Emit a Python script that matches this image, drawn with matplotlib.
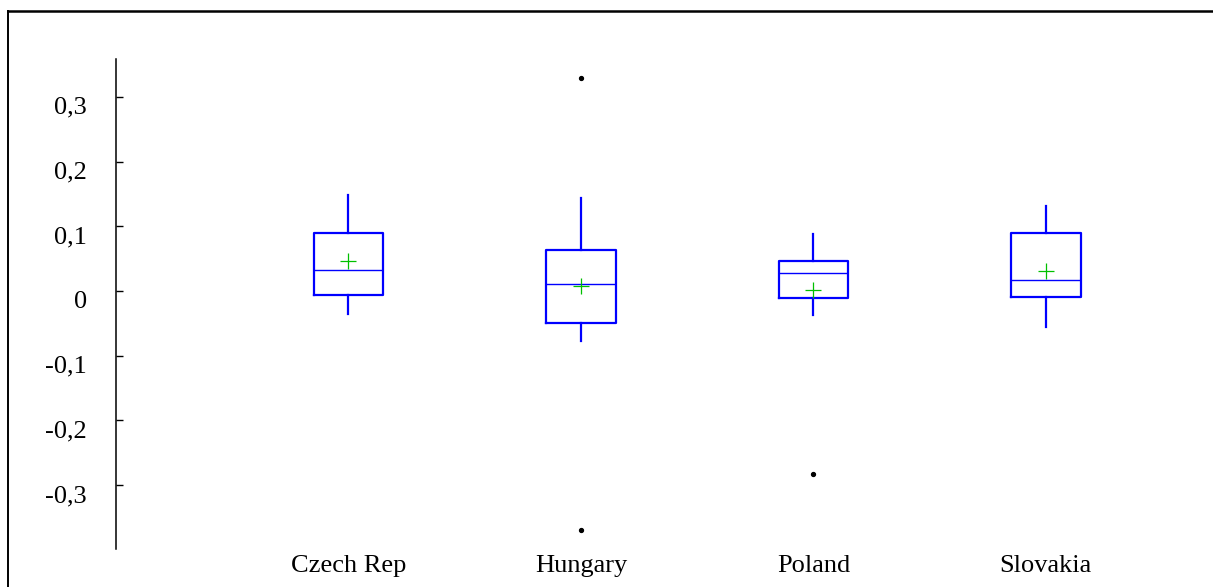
import matplotlib.pyplot as plt
from matplotlib.lines import Line2D

plt.rcParams['font.family'] = ['Liberation Serif', 'DejaVu Serif']

# значення
countries = ['Czech Rep', 'Hungary', 'Poland', 'Slovakia']
whisker_low = [-0.036, -0.078, -0.038, -0.056]
q1 = [-0.007, -0.049, -0.011, -0.010]
medians = [0.033, 0.011, 0.027, 0.017]
q3 = [0.090, 0.063, 0.046, 0.089]
whisker_high = [0.148, 0.143, 0.088, 0.131]
means = [0.046, 0.008, 0.001, 0.030]
outliers = [[], [0.329, -0.370], [-0.283], []]

y_ticks = [-0.3, -0.2, -0.1, 0, 0.1, 0.2, 0.3]
y_labels = ['-0,3', '-0,2', '-0,1', '0', '0,1', '0,2', '0,3']

W, H = 1213, 587
fig = plt.figure(figsize=(W / 100, H / 100), dpi=100)
ax = fig.add_axes([116 / W, (H - 549) / H, (1190 - 116) / W, (549 - 59.3) / H])

stats = []
for i in range(len(countries)):
    stats.append(dict(label=countries[i], whislo=whisker_low[i], q1=q1[i],
                      med=medians[i], q3=q3[i], whishi=whisker_high[i],
                      mean=means[i], fliers=outliers[i]))

blue = '#0000ff'
ax.bxp(stats, positions=range(1, 5), widths=0.30, showmeans=True,
       showcaps=False, patch_artist=False,
       boxprops=dict(color=blue, linewidth=1.6),
       whiskerprops=dict(color=blue, linewidth=1.6),
       medianprops=dict(color=blue, linewidth=1.0),
       meanprops=dict(marker='+', markeredgecolor='#00c000',
                      markersize=12, markeredgewidth=0.9),
       flierprops=dict(marker='o', markerfacecolor='black',
                       markeredgecolor='black', markersize=2.8))

ax.set_xlim(0, 4.62)
ax.set_ylim(-0.399, 0.358)
ax.set_yticks(y_ticks, labels=y_labels, va='top')
ax.tick_params(axis='y', direction='in', length=5, width=1, pad=21,
               labelsize=19)
ax.tick_params(axis='x', length=0, pad=4, labelsize=19)

for side in ['top', 'right', 'bottom']:
    ax.spines[side].set_visible(False)
ax.spines['left'].set_linewidth(1.1)

# рамка навколо рисунка
fig.add_artist(Line2D([8 / W, 8 / W], [0, 1 - 11 / H], color='black',
                      linewidth=1.4, transform=fig.transFigure))
fig.add_artist(Line2D([8 / W, 1], [1 - 11 / H, 1 - 11 / H], color='black',
                      linewidth=1.8, transform=fig.transFigure))

fig.savefig('out.png', dpi=100)
